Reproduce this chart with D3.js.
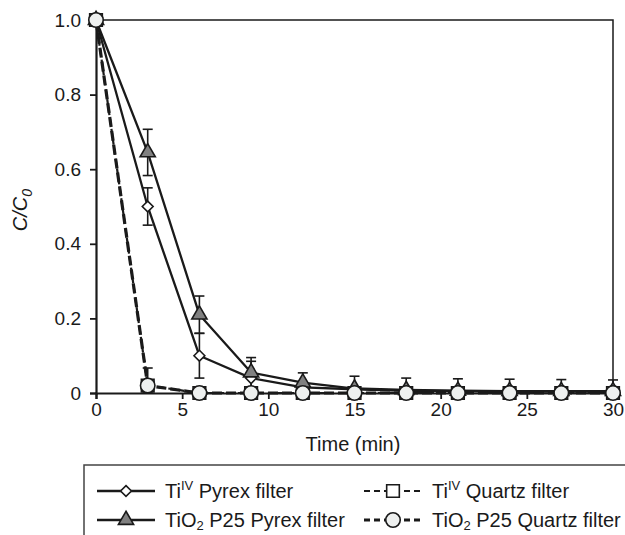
<!DOCTYPE html>
<html>
<head>
<meta charset="utf-8">
<script src="https://cdn.jsdelivr.net/npm/d3@7"></script>
<style>
  body { margin: 0; background: #fff; }
  svg text { font-family: "Liberation Sans", Arial, sans-serif; fill: #1a1a1a; }
</style>
</head>
<body>
<div id="chart"></div>
<script>
// data
var times = [0, 3, 6, 9, 12, 15, 18, 21, 24, 27, 30];

var tiPyrex    = [1, 0.50, 0.10, 0.04, 0.015, 0.01, 0.006, 0.005, 0.004, 0.004, 0.004];
var tiPyrexErr = [0, 0.05, 0.06, 0.045, 0, 0, 0, 0, 0, 0, 0];

var p25Pyrex    = [1, 0.645, 0.21, 0.055, 0.028, 0.012, 0.008, 0.006, 0.005, 0.005, 0.005];
var p25PyrexErr = [0, 0.062, 0.05, 0.04, 0.026, 0.033, 0.032, 0.032, 0.032, 0.031, 0.03];

var tiQuartz    = [1, 0.02, 0, 0, 0, 0, 0, 0, 0, 0, 0];
var tiQuartzErr = [0, 0, 0, 0, 0, 0, 0, 0, 0, 0, 0];

var p25Quartz    = [1, 0.02, 0, 0, 0, 0, 0, 0, 0, 0, 0];
var p25QuartzErr = [0, 0.047, 0, 0, 0, 0, 0, 0, 0, 0, 0];

var xTicks = [0, 5, 10, 15, 20, 25, 30];
var yTicks = [0, 0.2, 0.4, 0.6, 0.8, 1.0];

// svg
var width = 625, height = 535;
var ink = "#1a1a1a";
var tickFont = 19;
var labelFont = 20;

var svg = d3.select("#chart").append("svg")
    .attr("width", width)
    .attr("height", height);

var xScale = d3.scaleLinear().domain([0, 30]).range([96, 613]);
var yScale = d3.scaleLinear().domain([0, 1]).range([393, 20]);

// frame on top and right
svg.append("path")
    .attr("d", `M${xScale(0)},${yScale(1)}H${xScale(30)}V${yScale(0)}`)
    .attr("fill", "none")
    .attr("stroke", ink)
    .attr("stroke-width", 1.5);

// axes
var xAxis = d3.axisBottom(xScale).tickValues(xTicks).tickSize(6).tickPadding(4)
    .tickFormat(d3.format("d"));
var yAxis = d3.axisLeft(yScale).tickValues(yTicks).tickSize(6).tickPadding(9)
    .tickFormat(function(d) { return d === 0 ? "0" : d3.format(".1f")(d); });

var gx = svg.append("g").attr("transform", `translate(0, ${yScale(0)})`).call(xAxis);
var gy = svg.append("g").attr("transform", `translate(${xScale(0)}, 0)`).call(yAxis);

[gx, gy].forEach(function(g) {
  g.attr("font-size", tickFont).attr("font-family", "'Liberation Sans', Arial, sans-serif");
  g.select(".domain").attr("stroke", ink).attr("stroke-width", 2.2);
  g.selectAll(".tick line").attr("stroke", ink).attr("stroke-width", 1.8);
  g.selectAll(".tick text").attr("fill", ink);
});

// axis titles
svg.append("text")
    .attr("x", 353)
    .attr("y", 451)
    .attr("text-anchor", "middle")
    .attr("font-size", labelFont)
    .text("Time (min)");

var yTitle = svg.append("text")
    .attr("transform", "translate(27, 210) rotate(-90)")
    .attr("text-anchor", "middle")
    .attr("font-size", 20)
    .attr("font-style", "italic");
yTitle.append("tspan").text("C/C");
yTitle.append("tspan").attr("font-size", 14).attr("dy", 5).text("0");

// series
var series = [
  { name: "tiPyrex", vals: tiPyrex, err: tiPyrexErr, shape: "diamond", fill: "#ffffff", dash: null, lw: 2.3 },
  { name: "tiQuartz", vals: tiQuartz, err: tiQuartzErr, shape: "square", fill: "#ffffff", dash: "6,4", lw: 2.2 },
  { name: "p25Pyrex", vals: p25Pyrex, err: p25PyrexErr, shape: "triangle", fill: "#808080", dash: null, lw: 2.3 },
  { name: "p25Quartz", vals: p25Quartz, err: p25QuartzErr, shape: "circle", fill: "#eef0ef", dash: "10,4", lw: 3.2 }
];

function points(s) {
  return times.map(function(t, i) { return { t: t, v: s.vals[i], e: s.err[i] }; });
}

// error bars first
series.forEach(function(s) {
  var bars = svg.append("g").selectAll("g")
      .data(points(s).filter(function(d) { return d.e > 0; }))
      .enter().append("g");
  bars.append("line")
      .attr("x1", function(d) { return xScale(d.t); })
      .attr("x2", function(d) { return xScale(d.t); })
      .attr("y1", function(d) { return yScale(Math.max(0, d.v - d.e)); })
      .attr("y2", function(d) { return yScale(d.v + d.e); })
      .attr("stroke", ink).attr("stroke-width", 1.6);
  [1, -1].forEach(function(sign) {
    bars.append("line")
        .attr("x1", function(d) { return xScale(d.t) - 5; })
        .attr("x2", function(d) { return xScale(d.t) + 5; })
        .attr("y1", function(d) { return yScale(sign > 0 ? d.v + d.e : Math.max(0, d.v - d.e)); })
        .attr("y2", function(d) { return yScale(sign > 0 ? d.v + d.e : Math.max(0, d.v - d.e)); })
        .attr("stroke", ink).attr("stroke-width", 1.6);
  });
});

// lines
var line = d3.line()
    .x(function(d) { return xScale(d.t); })
    .y(function(d) { return yScale(d.v); });

series.forEach(function(s) {
  svg.append("path")
      .datum(points(s))
      .attr("d", line)
      .attr("fill", "none")
      .attr("stroke", ink)
      .attr("stroke-width", s.lw)
      .attr("stroke-dasharray", s.dash);
});

// markers
var symbols = {
  diamond: d3.symbol().type(d3.symbolDiamond2).size(75),
  square: d3.symbol().type(d3.symbolSquare).size(160),
  triangle: d3.symbol().type(d3.symbolTriangle).size(100),
  circle: d3.symbol().type(d3.symbolCircle).size(165)
};

function drawMarker(g, shape, fill, x, y) {
  g.append("path")
      .attr("d", symbols[shape]())
      .attr("transform", `translate(${x}, ${y})`)
      .attr("fill", fill)
      .attr("stroke", ink)
      .attr("stroke-width", 1.6);
}

series.forEach(function(s) {
  var g = svg.append("g");
  points(s).forEach(function(d) {
    drawMarker(g, s.shape, s.fill, xScale(d.t), yScale(d.v));
  });
});

// legend box
svg.append("path")
    .attr("d", "M84,536V465H626")
    .attr("fill", "none")
    .attr("stroke", "#444")
    .attr("stroke-width", 1.5);

var legendItems = [
  { s: series[0], x: 97, y: 491, pre: "Ti", sup: "IV", sub: null, post: " Pyrex filter" },
  { s: series[1], x: 364, y: 491, pre: "Ti", sup: "IV", sub: null, post: " Quartz filter" },
  { s: series[2], x: 97, y: 520, pre: "TiO", sup: null, sub: "2", post: " P25 Pyrex filter" },
  { s: series[3], x: 364, y: 520, pre: "TiO", sup: null, sub: "2", post: " P25 Quartz filter" }
];

legendItems.forEach(function(item) {
  var g = svg.append("g");
  g.append("line")
      .attr("x1", item.x).attr("x2", item.x + 58)
      .attr("y1", item.y).attr("y2", item.y)
      .attr("stroke", ink)
      .attr("stroke-width", item.s.lw)
      .attr("stroke-dasharray", item.s.dash ? "6,4" : null);
  drawMarker(g, item.s.shape, item.s.fill, item.x + 29, item.y);

  var t = g.append("text")
      .attr("x", item.x + 68)
      .attr("y", item.y + 7)
      .attr("font-size", labelFont);
  t.append("tspan").text(item.pre);
  if (item.sup) {
    t.append("tspan").attr("font-size", 13).attr("dy", -8).text(item.sup);
    t.append("tspan").attr("dy", 8).text(item.post);
  } else {
    t.append("tspan").attr("font-size", 13).attr("dy", 3).text(item.sub);
    t.append("tspan").attr("dy", -3).text(item.post);
  }
});
</script>
</body>
</html>
